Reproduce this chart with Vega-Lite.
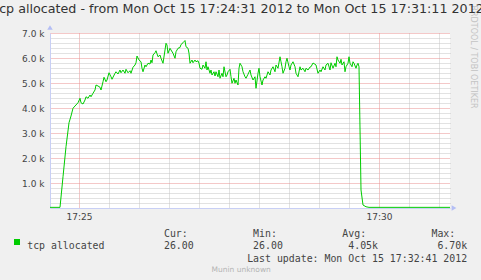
{
  "$schema": "https://vega.github.io/schema/vega-lite/v6.json",
  "width": 400,
  "height": 175,
  "autosize": {"type": "none"},
  "padding": {"left": 50, "top": 33, "right": 31, "bottom": 72},
  "background": "#F0F0F0",
  "title": {
    "text": "tcp allocated - from Mon Oct 15 17:24:31 2012 to Mon Oct 15 17:31:11 2012",
    "font": "DejaVu Sans", "fontSize": 12.7, "fontWeight": "normal", "color": "#333333",
    "anchor": "middle", "frame": "group", "dx": -11, "offset": -21, "baseline": "alphabetic"
  },
  "data": {"values": [
    {"t":"2012-10-15T17:24:31","v":26},{"t":"2012-10-15T17:24:41","v":26},{"t":"2012-10-15T17:24:44","v":1250},{"t":"2012-10-15T17:24:47","v":2450},
    {"t":"2012-10-15T17:24:50","v":3410},{"t":"2012-10-15T17:24:52","v":3680},{"t":"2012-10-15T17:24:54","v":3990},{"t":"2012-10-15T17:24:56","v":4080},
    {"t":"2012-10-15T17:24:59","v":4210},{"t":"2012-10-15T17:25:01","v":4390},{"t":"2012-10-15T17:25:02","v":4210},{"t":"2012-10-15T17:25:04","v":4160},
    {"t":"2012-10-15T17:25:06","v":4320},{"t":"2012-10-15T17:25:07","v":4450},{"t":"2012-10-15T17:25:09","v":4390},{"t":"2012-10-15T17:25:11","v":4520},
    {"t":"2012-10-15T17:25:12","v":4450},{"t":"2012-10-15T17:25:14","v":4590},{"t":"2012-10-15T17:25:16","v":4720},{"t":"2012-10-15T17:25:17","v":4920},
    {"t":"2012-10-15T17:25:19","v":4880},{"t":"2012-10-15T17:25:21","v":4830},{"t":"2012-10-15T17:25:22","v":4720},{"t":"2012-10-15T17:25:24","v":5050},
    {"t":"2012-10-15T17:25:25","v":5230},{"t":"2012-10-15T17:25:27","v":5050},{"t":"2012-10-15T17:25:28","v":5120},{"t":"2012-10-15T17:25:30","v":5410},
    {"t":"2012-10-15T17:25:32","v":5250},{"t":"2012-10-15T17:25:33","v":5150},{"t":"2012-10-15T17:25:36","v":5390},{"t":"2012-10-15T17:25:37","v":5450},
    {"t":"2012-10-15T17:25:39","v":5360},{"t":"2012-10-15T17:25:41","v":5520},{"t":"2012-10-15T17:25:42","v":5410},{"t":"2012-10-15T17:25:44","v":5520},
    {"t":"2012-10-15T17:25:46","v":5390},{"t":"2012-10-15T17:25:47","v":5550},{"t":"2012-10-15T17:25:49","v":5410},{"t":"2012-10-15T17:25:51","v":5490},
    {"t":"2012-10-15T17:25:52","v":5390},{"t":"2012-10-15T17:25:54","v":5630},{"t":"2012-10-15T17:25:56","v":5720},{"t":"2012-10-15T17:25:57","v":5810},
    {"t":"2012-10-15T17:25:58","v":6080},{"t":"2012-10-15T17:26:00","v":5920},{"t":"2012-10-15T17:26:02","v":5850},{"t":"2012-10-15T17:26:03","v":5590},
    {"t":"2012-10-15T17:26:04","v":5450},{"t":"2012-10-15T17:26:06","v":5720},{"t":"2012-10-15T17:26:07","v":5650},{"t":"2012-10-15T17:26:09","v":5790},
    {"t":"2012-10-15T17:26:11","v":5760},{"t":"2012-10-15T17:26:12","v":5920},{"t":"2012-10-15T17:26:13","v":5810},{"t":"2012-10-15T17:26:14","v":6120},
    {"t":"2012-10-15T17:26:16","v":6210},{"t":"2012-10-15T17:26:17","v":6290},{"t":"2012-10-15T17:26:19","v":6050},{"t":"2012-10-15T17:26:21","v":6120},
    {"t":"2012-10-15T17:26:22","v":5990},{"t":"2012-10-15T17:26:24","v":5790},{"t":"2012-10-15T17:26:26","v":6320},{"t":"2012-10-15T17:26:27","v":6590},
    {"t":"2012-10-15T17:26:28","v":6520},{"t":"2012-10-15T17:26:29","v":6190},{"t":"2012-10-15T17:26:31","v":6390},{"t":"2012-10-15T17:26:32","v":6320},
    {"t":"2012-10-15T17:26:34","v":6190},{"t":"2012-10-15T17:26:36","v":5990},{"t":"2012-10-15T17:26:37","v":6250},{"t":"2012-10-15T17:26:39","v":6390},
    {"t":"2012-10-15T17:26:41","v":6420},{"t":"2012-10-15T17:26:42","v":6540},{"t":"2012-10-15T17:26:44","v":6610},{"t":"2012-10-15T17:26:46","v":6700},
    {"t":"2012-10-15T17:26:47","v":6450},{"t":"2012-10-15T17:26:49","v":6390},{"t":"2012-10-15T17:26:50","v":6190},{"t":"2012-10-15T17:26:51","v":5790},
    {"t":"2012-10-15T17:26:53","v":5920},{"t":"2012-10-15T17:26:54","v":5810},{"t":"2012-10-15T17:26:56","v":5920},{"t":"2012-10-15T17:26:57","v":5850},
    {"t":"2012-10-15T17:26:59","v":5890},{"t":"2012-10-15T17:27:00","v":5790},{"t":"2012-10-15T17:27:01","v":5590},{"t":"2012-10-15T17:27:03","v":5550},
    {"t":"2012-10-15T17:27:04","v":5720},{"t":"2012-10-15T17:27:06","v":5590},{"t":"2012-10-15T17:27:07","v":5850},{"t":"2012-10-15T17:27:08","v":5520},
    {"t":"2012-10-15T17:27:09","v":5650},{"t":"2012-10-15T17:27:11","v":5390},{"t":"2012-10-15T17:27:12","v":5520},{"t":"2012-10-15T17:27:13","v":5320},
    {"t":"2012-10-15T17:27:15","v":5450},{"t":"2012-10-15T17:27:16","v":5280},{"t":"2012-10-15T17:27:17","v":5450},{"t":"2012-10-15T17:27:19","v":5250},
    {"t":"2012-10-15T17:27:20","v":5520},{"t":"2012-10-15T17:27:21","v":5190},{"t":"2012-10-15T17:27:23","v":5390},{"t":"2012-10-15T17:27:24","v":5250},
    {"t":"2012-10-15T17:27:25","v":5650},{"t":"2012-10-15T17:27:27","v":5250},{"t":"2012-10-15T17:27:28","v":5320},{"t":"2012-10-15T17:27:29","v":5450},
    {"t":"2012-10-15T17:27:31","v":5550},{"t":"2012-10-15T17:27:32","v":5250},{"t":"2012-10-15T17:27:33","v":4990},{"t":"2012-10-15T17:27:35","v":5190},
    {"t":"2012-10-15T17:27:36","v":4990},{"t":"2012-10-15T17:27:37","v":5120},{"t":"2012-10-15T17:27:39","v":4920},{"t":"2012-10-15T17:27:40","v":5590},
    {"t":"2012-10-15T17:27:41","v":5790},{"t":"2012-10-15T17:27:43","v":5650},{"t":"2012-10-15T17:27:44","v":5450},{"t":"2012-10-15T17:27:46","v":5250},
    {"t":"2012-10-15T17:27:47","v":5190},{"t":"2012-10-15T17:27:49","v":5350},{"t":"2012-10-15T17:27:51","v":5520},{"t":"2012-10-15T17:27:52","v":5320},
    {"t":"2012-10-15T17:27:54","v":5120},{"t":"2012-10-15T17:27:56","v":5250},{"t":"2012-10-15T17:27:57","v":4790},{"t":"2012-10-15T17:27:59","v":5390},
    {"t":"2012-10-15T17:28:00","v":5590},{"t":"2012-10-15T17:28:01","v":5250},{"t":"2012-10-15T17:28:03","v":4920},{"t":"2012-10-15T17:28:04","v":5120},
    {"t":"2012-10-15T17:28:06","v":5250},{"t":"2012-10-15T17:28:07","v":5190},{"t":"2012-10-15T17:28:09","v":5450},{"t":"2012-10-15T17:28:11","v":5320},
    {"t":"2012-10-15T17:28:12","v":5520},{"t":"2012-10-15T17:28:14","v":5650},{"t":"2012-10-15T17:28:16","v":5450},{"t":"2012-10-15T17:28:17","v":5720},
    {"t":"2012-10-15T17:28:19","v":5590},{"t":"2012-10-15T17:28:21","v":6050},{"t":"2012-10-15T17:28:22","v":5850},{"t":"2012-10-15T17:28:23","v":5650},
    {"t":"2012-10-15T17:28:24","v":5390},{"t":"2012-10-15T17:28:26","v":5590},{"t":"2012-10-15T17:28:27","v":5850},{"t":"2012-10-15T17:28:28","v":5990},
    {"t":"2012-10-15T17:28:30","v":5650},{"t":"2012-10-15T17:28:31","v":5520},{"t":"2012-10-15T17:28:32","v":5720},{"t":"2012-10-15T17:28:34","v":5850},
    {"t":"2012-10-15T17:28:36","v":5650},{"t":"2012-10-15T17:28:37","v":5390},{"t":"2012-10-15T17:28:39","v":5250},{"t":"2012-10-15T17:28:41","v":5650},
    {"t":"2012-10-15T17:28:42","v":5520},{"t":"2012-10-15T17:28:44","v":5590},{"t":"2012-10-15T17:28:46","v":5450},{"t":"2012-10-15T17:28:47","v":5590},
    {"t":"2012-10-15T17:28:49","v":5520},{"t":"2012-10-15T17:28:51","v":5640},{"t":"2012-10-15T17:28:52","v":5650},{"t":"2012-10-15T17:28:54","v":5800},
    {"t":"2012-10-15T17:28:56","v":5750},{"t":"2012-10-15T17:28:57","v":5720},{"t":"2012-10-15T17:28:59","v":5390},{"t":"2012-10-15T17:29:01","v":5520},
    {"t":"2012-10-15T17:29:02","v":5450},{"t":"2012-10-15T17:29:04","v":5650},{"t":"2012-10-15T17:29:06","v":5520},{"t":"2012-10-15T17:29:07","v":5720},
    {"t":"2012-10-15T17:29:09","v":5790},{"t":"2012-10-15T17:29:11","v":5520},{"t":"2012-10-15T17:29:12","v":5810},{"t":"2012-10-15T17:29:14","v":5590},
    {"t":"2012-10-15T17:29:16","v":5790},{"t":"2012-10-15T17:29:17","v":5650},{"t":"2012-10-15T17:29:18","v":6050},{"t":"2012-10-15T17:29:19","v":5920},
    {"t":"2012-10-15T17:29:21","v":5790},{"t":"2012-10-15T17:29:22","v":5950},{"t":"2012-10-15T17:29:23","v":5720},{"t":"2012-10-15T17:29:25","v":5850},
    {"t":"2012-10-15T17:29:26","v":5450},{"t":"2012-10-15T17:29:27","v":5650},{"t":"2012-10-15T17:29:29","v":5790},{"t":"2012-10-15T17:29:30","v":6050},
    {"t":"2012-10-15T17:29:31","v":5790},{"t":"2012-10-15T17:29:33","v":5650},{"t":"2012-10-15T17:29:34","v":5850},{"t":"2012-10-15T17:29:35","v":5790},
    {"t":"2012-10-15T17:29:37","v":5590},{"t":"2012-10-15T17:29:38","v":5720},{"t":"2012-10-15T17:29:39","v":5790},{"t":"2012-10-15T17:29:40","v":5650},
    {"t":"2012-10-15T17:29:42","v":720},{"t":"2012-10-15T17:29:44","v":120},{"t":"2012-10-15T17:29:47","v":50},{"t":"2012-10-15T17:29:50","v":26},
    {"t":"2012-10-15T17:31:11","v":26}
  ]},
  "layer": [
    {
      "mark": {"type": "line", "strokeOpacity": 0},
      "encoding": {
        "x": {"field": "t", "type": "temporal",
          "scale": {"domain": [{"year":2012,"month":10,"date":15,"hours":17,"minutes":24,"seconds":31},{"year":2012,"month":10,"date":15,"hours":17,"minutes":31,"seconds":11}]},
          "axis": {"orient": "top", "grid": true, "gridColor": "#C4C4C4", "gridDash": [1,1], "gridWidth": 1,
            "labels": false, "ticks": false, "domain": false, "title": null,
            "values": [
              {"year":2012,"month":10,"date":15,"hours":17,"minutes":25,"seconds":30},
              {"year":2012,"month":10,"date":15,"hours":17,"minutes":26,"seconds":0},
              {"year":2012,"month":10,"date":15,"hours":17,"minutes":26,"seconds":30},
              {"year":2012,"month":10,"date":15,"hours":17,"minutes":27,"seconds":0},
              {"year":2012,"month":10,"date":15,"hours":17,"minutes":27,"seconds":30},
              {"year":2012,"month":10,"date":15,"hours":17,"minutes":28,"seconds":0},
              {"year":2012,"month":10,"date":15,"hours":17,"minutes":28,"seconds":30},
              {"year":2012,"month":10,"date":15,"hours":17,"minutes":29,"seconds":0},
              {"year":2012,"month":10,"date":15,"hours":17,"minutes":29,"seconds":30},
              {"year":2012,"month":10,"date":15,"hours":17,"minutes":30,"seconds":30},
              {"year":2012,"month":10,"date":15,"hours":17,"minutes":31,"seconds":0}
            ]}},
        "y": {"field": "v", "type": "quantitative", "scale": {"domain": [0, 7000]},
          "axis": {"orient": "right", "grid": true, "gridColor": "#C4C4C4", "gridDash": [1,1], "gridWidth": 1,
            "labels": false, "ticks": false, "domain": false,
            "values": [200,400,600,800,1200,1400,1600,1800,2200,2400,2600,2800,3200,3400,3600,3800,4200,4400,4600,4800,5200,5400,5600,5800,6200,6400,6600,6800],
            "title": "RRDTOOL / TOBI OETIKER", "titleAngle": 90, "titleX": 22.7, "titleY": 23.5,
            "titleFont": "DejaVu Sans", "titleFontSize": 8, "titleFontWeight": "normal", "titleColor": "#C4C4C4",
            "titleAlign": "center", "titleBaseline": "middle"}}
      }
    },
    {
      "mark": {"type": "line", "strokeWidth": 1},
      "encoding": {
        "x": {"field": "t", "type": "temporal",
          "scale": {"domain": [{"year":2012,"month":10,"date":15,"hours":17,"minutes":24,"seconds":31},{"year":2012,"month":10,"date":15,"hours":17,"minutes":31,"seconds":11}]},
          "axis": {"orient": "bottom", "grid": true, "gridColor": "#E89090", "gridDash": [1,1], "gridWidth": 1,
            "ticks": false, "tickSize": 0, "domain": true, "domainColor": "#C8CFF5", "domainWidth": 1,
            "format": "%H:%M", "labelFont": "DejaVu Sans", "labelFontSize": 9, "labelColor": "#444444", "labelPadding": 4,
            "values": [
              {"year":2012,"month":10,"date":15,"hours":17,"minutes":25,"seconds":0},
              {"year":2012,"month":10,"date":15,"hours":17,"minutes":30,"seconds":0}
            ],
            "title": [
              "\u200b\u00a0\u00a0\u00a0\u00a0\u00a0\u00a0\u00a0\u00a0\u00a0\u00a0\u00a0\u00a0\u00a0\u00a0\u00a0\u00a0\u00a0\u00a0\u00a0\u00a0\u00a0\u00a0\u00a0Cur:\u00a0\u00a0\u00a0\u00a0\u00a0\u00a0\u00a0\u00a0\u00a0\u00a0\u00a0Min:\u00a0\u00a0\u00a0\u00a0\u00a0\u00a0\u00a0\u00a0\u00a0\u00a0\u00a0Avg:\u00a0\u00a0\u00a0\u00a0\u00a0\u00a0\u00a0\u00a0\u00a0\u00a0\u00a0Max:",
              "tcp allocated\u00a0\u00a0\u00a0\u00a0\u00a0\u00a0\u00a0\u00a0\u00a0\u00a026.00\u00a0\u00a0\u00a0\u00a0\u00a0\u00a0\u00a0\u00a0\u00a0\u00a026.00\u00a0\u00a0\u00a0\u00a0\u00a0\u00a0\u00a0\u00a0\u00a0\u00a0\u00a04.05k\u00a0\u00a0\u00a0\u00a0\u00a0\u00a0\u00a0\u00a0\u00a0\u00a06.70k",
              "\u200b\u00a0\u00a0\u00a0\u00a0\u00a0\u00a0\u00a0\u00a0\u00a0\u00a0\u00a0\u00a0\u00a0\u00a0\u00a0\u00a0\u00a0\u00a0\u00a0\u00a0\u00a0\u00a0\u00a0\u00a0\u00a0\u00a0\u00a0\u00a0\u00a0\u00a0\u00a0\u00a0\u00a0\u00a0\u00a0\u00a0\u00a0Last update: Mon Oct 15 17:32:41 2012"
            ],
            "titleX": -23.3, "titleY": 28.7, "titleAlign": "left", "titleAnchor": "start", "titleBaseline": "alphabetic", "titleAngle": 0,
            "titleFont": "DejaVu Sans Mono", "titleFontSize": 9.9, "titleFontWeight": "normal", "titleColor": "#444444", "titleLineHeight": 12.2}},
        "y": {"field": "v", "type": "quantitative", "scale": {"domain": [0, 7000]},
          "axis": {"orient": "left", "grid": true, "gridColor": "#E89090", "gridDash": [1,1], "gridWidth": 1,
            "ticks": false, "tickSize": 0, "domain": true, "domainColor": "#C8CFF5", "domainWidth": 1,
            "values": [1000,2000,3000,4000,5000,6000,7000],
            "labelExpr": "format(datum.value/1000, '.1f') + ' k'",
            "labelFont": "DejaVu Sans", "labelFontSize": 9, "labelColor": "#444444", "labelPadding": 6,
            "title": "Munin unknown", "titleAngle": 0, "titleX": 190.7, "titleY": 238.5,
            "titleAlign": "center", "titleBaseline": "alphabetic",
            "titleFont": "DejaVu Sans", "titleFontSize": 7.5, "titleFontWeight": "normal", "titleColor": "#B4B4B4"}},
        "color": {"datum": "tcp allocated", "scale": {"range": ["#00CC00"]},
          "legend": {"orient": "none", "legendX": -36, "legendY": 206, "title": null, "padding": 0, "offset": 0,
            "symbolType": "square", "symbolSize": 36, "symbolStrokeWidth": 0, "symbolFillColor": "#00CC00", "symbolStrokeColor": "#00CC00",
            "labelExpr": "''", "labelFontSize": 1, "labelOffset": 0,
            "encode": {"symbols": {"update": {"fill": {"value": "#00CC00"}, "strokeWidth": {"value": 0}}}}}}
      }
    },
    {
      "data": {"values": [{"t": "2012-10-15T17:31:15", "v": 0}]},
      "mark": {"type": "point", "shape": "triangle-right", "filled": true, "color": "#B4BEF5", "size": 30, "opacity": 1, "clip": false},
      "encoding": {
        "x": {"field": "t", "type": "temporal", "axis": null,
          "scale": {"domain": [{"year":2012,"month":10,"date":15,"hours":17,"minutes":24,"seconds":31},{"year":2012,"month":10,"date":15,"hours":17,"minutes":31,"seconds":11}]}},
        "y": {"field": "v", "type": "quantitative", "axis": null, "scale": {"domain": [0, 7000]}}
      }
    },
    {
      "data": {"values": [{"t": "2012-10-15T17:24:31", "v": 7220}]},
      "mark": {"type": "point", "shape": "triangle-up", "filled": true, "color": "#B4BEF5", "size": 30, "opacity": 1, "clip": false},
      "encoding": {
        "x": {"field": "t", "type": "temporal", "axis": null,
          "scale": {"domain": [{"year":2012,"month":10,"date":15,"hours":17,"minutes":24,"seconds":31},{"year":2012,"month":10,"date":15,"hours":17,"minutes":31,"seconds":11}]}},
        "y": {"field": "v", "type": "quantitative", "axis": null, "scale": {"domain": [0, 7000]}}
      }
    }
  ],
  "resolve": {"axis": {"x": "independent", "y": "independent"}},
  "config": {"view": {"stroke": null, "fill": "#FFFFFF"}}
}
